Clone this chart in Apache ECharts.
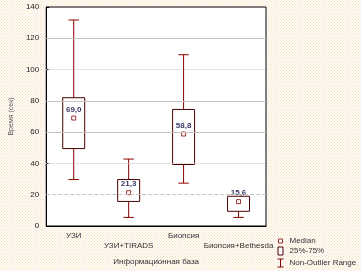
<!DOCTYPE html>
<html>
<head>
<meta charset="utf-8">
<script src="https://cdn.jsdelivr.net/npm/echarts@6/dist/echarts.min.js"></script>
<style>
  html, body { margin: 0; padding: 0; }
  body {
    width: 361px; height: 271px;
    background:
      radial-gradient(circle, #f1e3a6 0.7px, transparent 0.9px) 0 0 / 3px 3px,
      radial-gradient(circle, #f3cccc 0.7px, transparent 0.9px) 1.5px 1.5px / 3px 3px,
      #fffdf8;
  }
  #chart { width: 361px; height: 271px; }
</style>
</head>
<body>
<div id="chart"></div>
<script>
// ось X
var categories = ['УЗИ', 'УЗИ+TIRADS', 'Биопсия', 'Биопсия+Bethesda'];
// медиана, квартили и размах без выбросов (сек)
var medians = [69.0, 21.3, 58.8, 15.6];
var q1 = [49.5, 15.7, 39.3, 9.4];
var q3 = [82.0, 29.7, 74.5, 19.0];
var lower = [29.7, 5.5, 27.4, 5.5];
var upper = [131.7, 42.8, 109.5, 19.0];
// деления оси Y и линии сетки
var yTicks = [0, 20, 40, 60, 80, 100, 120, 140];
var gridLines = [20, 40, 60, 80, 100, 120];
var gridTypes = ['dashed', 'dotted', 'solid', 'solid', 'dotted', 'solid'];

var boxData = categories.map(function (c, i) { return [i, q1[i], q3[i]]; });
var whiskerData = categories.map(function (c, i) { return [i, lower[i], q1[i], q3[i], upper[i]]; });
var medianData = categories.map(function (c, i) { return [i, medians[i]]; });

var boxColor = '#4a0000';
var whiskerColor = '#8b0000';
var font = 'Arial, "Liberation Sans", sans-serif';

var chart = echarts.init(document.getElementById('chart'));
var option = {
  animation: false,
  textStyle: { fontFamily: font },
  grid: {
    left: 36, top: 7, width: 230, height: 220,
    show: true, backgroundColor: '#fff', borderColor: '#000', borderWidth: 1
  },
  legend: {
    orient: 'vertical',
    left: 274, top: 236,
    height: 40,
    padding: 0,
    itemWidth: 8, itemHeight: 9, itemGap: 0,
    selectedMode: false,
    textStyle: { fontSize: 8, lineHeight: 9, color: '#333', fontFamily: font },
    data: [
      { name: 'Median', icon: 'path://M0,0M8,9M2,2.5h4v4h-4z',
        itemStyle: { color: '#fff', borderColor: whiskerColor, borderWidth: 1 } },
      { name: '25%-75%', icon: 'path://M0,0M8,9M1.5,0.5h5v8h-5z',
        itemStyle: { color: '#fff', borderColor: boxColor, borderWidth: 1 } },
      { name: 'Non-Outlier Range', icon: 'path://M0,0M8,9M1,0.5h6M4,0.5v8M1,8.5h6',
        itemStyle: { color: 'none', borderColor: whiskerColor, borderWidth: 1 } }
    ]
  },
  xAxis: [{
    type: 'category',
    data: categories,
    name: 'Информационная база',
    nameLocation: 'middle',
    nameGap: 32,
    nameTextStyle: { fontSize: 8, color: '#333' },
    axisLine: { lineStyle: { color: '#000' } },
    axisTick: { alignWithLabel: true, inside: true, length: 3, lineStyle: { color: '#000' } },
    axisLabel: {
      interval: 0,
      hideOverlap: false,
      fontSize: 8, color: '#333', margin: 5, lineHeight: 10,
      formatter: function (v) {
        return categories.indexOf(v) % 2 ? '\n' + v : v;
      }
    },
    splitLine: { show: false }
  }, {
    type: 'category',
    data: categories,
    position: 'top',
    axisLine: { show: false },
    axisTick: { alignWithLabel: true, inside: true, length: 3, lineStyle: { color: '#000' } },
    axisLabel: { show: false }
  }],
  yAxis: {
    type: 'value',
    min: yTicks[0], max: yTicks[yTicks.length - 1], interval: yTicks[1] - yTicks[0],
    name: 'Время (сек)',
    nameLocation: 'middle',
    nameGap: 26,
    nameTextStyle: { fontSize: 7, color: '#555' },
    axisLine: { show: true, lineStyle: { color: '#000' } },
    axisTick: { show: true, inside: true, length: 3, lineStyle: { color: '#000' } },
    axisLabel: { fontSize: 8, color: '#222', margin: 7 },
    splitLine: { show: false }
  },
  series: [
    {
      name: 'Non-Outlier Range',
      type: 'custom',
      z: 2,
      data: whiskerData,
      encode: { x: 0, y: [1, 4] },
      renderItem: function (params, api) {
        var x = api.value(0);
        var pLow = api.coord([x, api.value(1)]);
        var pQ1 = api.coord([x, api.value(2)]);
        var pQ3 = api.coord([x, api.value(3)]);
        var pHigh = api.coord([x, api.value(4)]);
        var half = api.size([1, 0])[0] * 0.095;
        var st = { stroke: whiskerColor, lineWidth: 1 };
        var kids = [
          { type: 'line', shape: { x1: pQ1[0], y1: pQ1[1], x2: pLow[0], y2: pLow[1] }, style: st },
          { type: 'line', shape: { x1: pLow[0] - half, y1: pLow[1], x2: pLow[0] + half, y2: pLow[1] }, style: st }
        ];
        if (api.value(4) > api.value(3)) {
          kids.push({ type: 'line', shape: { x1: pQ3[0], y1: pQ3[1], x2: pHigh[0], y2: pHigh[1] }, style: st });
          kids.push({ type: 'line', shape: { x1: pHigh[0] - half, y1: pHigh[1], x2: pHigh[0] + half, y2: pHigh[1] }, style: st });
        }
        return { type: 'group', children: kids };
      },
      markLine: {
        silent: true,
        symbol: 'none',
        label: { show: false },
        data: gridLines.map(function (v, i) {
          return { yAxis: v, lineStyle: { color: '#c4c4c4', width: 1, type: gridTypes[i] } };
        })
      }
    },
    {
      name: '25%-75%',
      type: 'custom',
      z: 3,
      data: boxData,
      encode: { x: 0, y: [1, 2] },
      renderItem: function (params, api) {
        var x = api.value(0);
        var pB = api.coord([x, api.value(1)]);
        var pT = api.coord([x, api.value(2)]);
        var w = api.size([1, 0])[0] * 0.4;
        return {
          type: 'rect',
          shape: { x: pT[0] - w / 2, y: pT[1], width: w, height: pB[1] - pT[1] },
          style: { fill: '#fff', stroke: boxColor, lineWidth: 1 }
        };
      }
    },
    {
      name: 'Median',
      type: 'scatter',
      z: 4,
      data: medianData,
      symbol: 'rect',
      symbolSize: 4,
      itemStyle: { color: '#fff', borderColor: whiskerColor, borderWidth: 1 },
      label: {
        show: true,
        position: 'top',
        distance: 2,
        fontSize: 8,
        fontWeight: 'bold',
        color: '#00003a',
        formatter: function (p) { return p.value[1].toFixed(1).replace('.', ','); }
      }
    }
  ]
};
chart.setOption(option);
</script>
</body>
</html>
